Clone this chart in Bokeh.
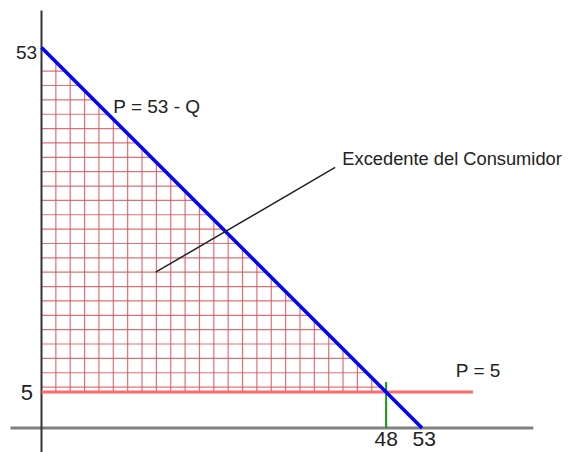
import numpy as np
from bokeh.plotting import figure
from bokeh.models import Range1d
from bokeh.core.properties import value
from bokeh.embed import file_html
from bokeh.resources import INLINE

# Demand P = 53 - Q, market price P = 5
demand_intercept = 53          # price axis intercept (and quantity intercept)
market_price = 5
quantity_sold = 48
y_tick_values = [53, 5]
x_tick_values = [48, 53]
demand_label = "P = 53 - Q"
price_label = "P = 5"
surplus_label = "Excedente del Consumidor"

FONT = value("Liberation Sans")
HATCH_STEP = 2.0
HATCH_OFFSET = 0.7

p = figure(width=568, height=452, x_range=Range1d(-5.71, 73.40), y_range=Range1d(-3.41, 59.54),
           output_backend="svg", toolbar_location=None,
           x_axis_location=None, y_axis_location=None,
           min_border=0, min_border_left=0, min_border_right=0,
           min_border_top=0, min_border_bottom=0)
p.outline_line_color = None
p.grid.visible = False
p.background_fill_color = "white"
p.border_fill_color = "white"

# Cross-hatching of the consumer surplus triangle
h_levels = np.arange(market_price + HATCH_OFFSET, demand_intercept - 2.5, HATCH_STEP)
p.segment(x0=np.zeros_like(h_levels), y0=h_levels, x1=demand_intercept - h_levels, y1=h_levels,
          line_color="#d64f55", line_width=1.2, line_alpha=0.8)
v_levels = np.arange(HATCH_STEP, quantity_sold, HATCH_STEP)
p.segment(x0=v_levels, y0=np.full_like(v_levels, market_price), x1=v_levels, y1=demand_intercept - v_levels,
          line_color="#d64f55", line_width=1.2, line_alpha=0.8)

# Axes
p.segment(x0=[-4.32], y0=[0], x1=[68.5], y1=[0], line_color="#808080", line_width=3)
p.segment(x0=[0], y0=[-3.41], x1=[0], y1=[58.15], line_color="#333333", line_width=2)

# Price line, quantity marker, demand curve
p.line([0, 60.1], [market_price, market_price], line_color="#ff6a6a", line_width=3)
p.line([quantity_sold, quantity_sold], [0, 6.4], line_color="#109a10", line_width=2)
p.line([0, demand_intercept], [demand_intercept, 0], line_color="#0000ff", line_width=3.5)

# Leader line to the surplus label
p.line([15.9, 40.9], [21.7, 36.3], line_color="#222222", line_width=1.5)

# Tick labels
p.text(x=[-0.6], y=[y_tick_values[0] - 0.7], text=[str(y_tick_values[0])], text_font=FONT,
       text_font_size="19px", text_align="right", text_baseline="middle", text_color="#222222")
p.text(x=[-1.2], y=[y_tick_values[1]], text=[str(y_tick_values[1])], text_font=FONT,
       text_font_size="22px", text_align="right", text_baseline="middle", text_color="#222222")
p.text(x=[x_tick_values[0], x_tick_values[1] + 0.3], y=[-0.5, -0.5], text=[str(v) for v in x_tick_values],
       text_font=FONT, text_font_size="21px", text_align="center", text_baseline="top", text_color="#222222")

# Annotations
p.text(x=[10.0], y=[44.8], text=[demand_label], text_font=FONT, text_font_size="19px",
       text_align="left", text_baseline="middle", text_color="#222222")
p.text(x=[57.7], y=[8.0], text=[price_label], text_font=FONT, text_font_size="19px",
       text_align="left", text_baseline="middle", text_color="#222222")
p.text(x=[41.9], y=[37.5], text=[surplus_label], text_font=FONT, text_font_size="18.3px",
       text_align="left", text_baseline="middle", text_color="#222222")

open("out.html", "w").write(file_html(p, INLINE))
